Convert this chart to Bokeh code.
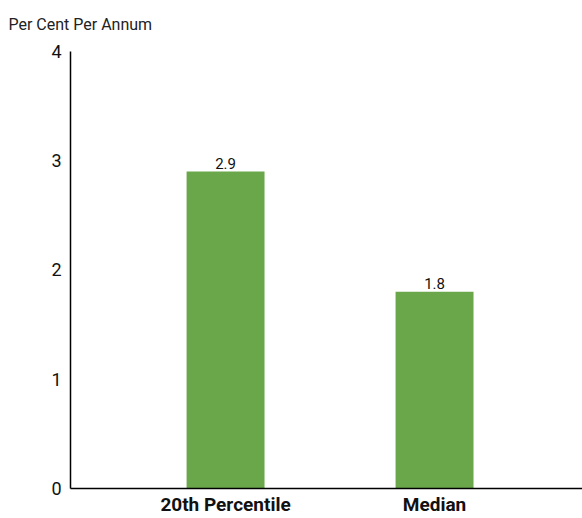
from bokeh.plotting import figure
from bokeh.models import ColumnDataSource, LabelSet, FixedTicker, Range1d, Title
from bokeh.core.properties import value
from bokeh.embed import file_html
from bokeh.resources import INLINE

categories = ["20th Percentile", "Median"]
values = [2.9, 1.8]
value_labels = ["2.9", "1.8"]
y_ticks = [0, 1, 2, 3, 4]
title_text = "Per Cent Per Annum"

xs = [i + 1 for i in range(len(categories))]
src = ColumnDataSource(dict(x=xs, top=values, lab=value_labels))

FONT = "Roboto"
W, H = 582, 518

p = figure(width=W, height=H, output_backend="svg", toolbar_location=None,
           x_range=Range1d(0.258, 2.708), y_range=Range1d(0, 4.1),
           min_border_left=70, min_border_right=0, min_border_top=40, min_border_bottom=28)
p.outline_line_color = None
p.xgrid.visible = False
p.ygrid.visible = False

p.vbar(x="x", top="top", width=0.373, source=src, color="#6aa74b", line_color=None)
p.add_layout(LabelSet(x="x", y="top", text="lab", source=src, text_align="center",
                      text_baseline="bottom", y_offset=3, text_font_size="15px",
                      text_font=value(FONT), text_color="#111111"))

p.yaxis.ticker = FixedTicker(ticks=y_ticks)
p.yaxis.bounds = (0, 4)
p.yaxis.major_tick_line_color = None
p.yaxis.minor_tick_line_color = None
p.yaxis.major_tick_out = 0
p.yaxis.major_tick_in = 0
p.yaxis.axis_line_color = "black"
p.yaxis.axis_line_width = 1.5
p.yaxis.major_label_text_font = FONT
p.yaxis.major_label_text_font_size = "18px"
p.yaxis.major_label_text_color = "#111111"
p.yaxis.major_label_standoff = 9

p.xaxis.ticker = FixedTicker(ticks=xs)
p.xaxis.major_label_overrides = {x: c for x, c in zip(xs, categories)}
p.xaxis.major_tick_line_color = None
p.xaxis.minor_tick_line_color = None
p.xaxis.major_tick_out = 0
p.xaxis.major_tick_in = 0
p.xaxis.axis_line_color = "black"
p.xaxis.axis_line_width = 1.5
p.xaxis.major_label_text_font = FONT
p.xaxis.major_label_text_font_style = "bold"
p.xaxis.major_label_text_font_size = "19px"
p.xaxis.major_label_text_color = "#111111"
p.xaxis.major_label_standoff = 4

p.add_layout(Title(text=title_text, align="left", offset=-62,
                   text_font=FONT, text_font_size="16px", text_font_style="normal",
                   text_color="#222222", standoff=14), "above")

open("out.html", "w").write(file_html(p, INLINE))
